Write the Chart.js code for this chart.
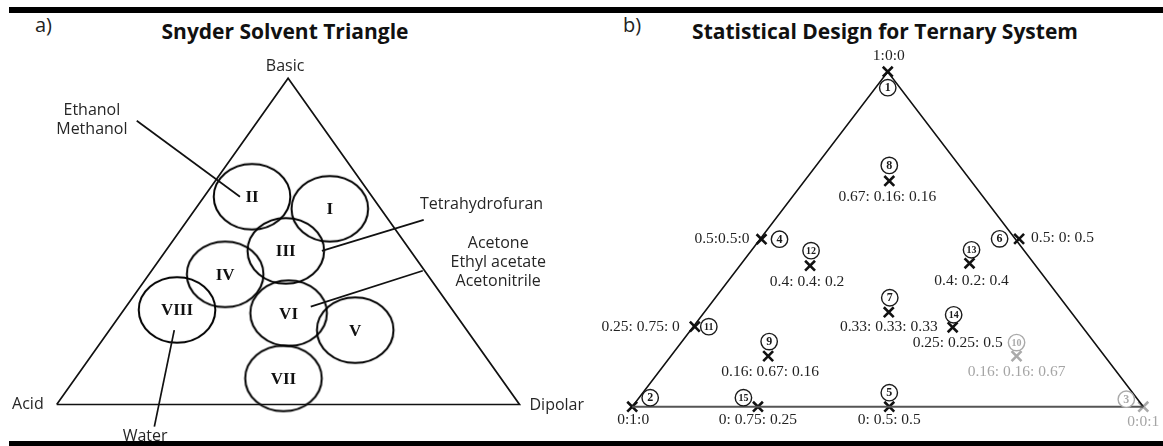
<!DOCTYPE html>
<html>
<head>
<meta charset="utf-8">
<script src="https://cdn.jsdelivr.net/npm/chart.js@4.4.1/dist/chart.umd.min.js"></script>
<style>
  body { margin: 0; width: 1163px; height: 446px; background: #fff; position: relative; overflow: hidden; font-family: 'Open Sans', sans-serif; }
  canvas { position: absolute; top: 0; }
  #snyder { left: 0; }
  #design { left: 580px; }
  .bar { position: absolute; left: 9px; right: 0; background: #000; z-index: 5; }
  .title { position: absolute; top: 17px; font-weight: bold; font-size: 21px; line-height: 28px; color: #111; transform: translateX(-50%); white-space: nowrap; }
  .tag { position: absolute; top: 11px; font-size: 20px; line-height: 27px; color: #222; }
</style>
</head>
<body>
<div class="bar" style="top:7px;height:6px"></div>
<div class="bar" style="top:441px;height:5px"></div>
<div class="tag" style="left:35px">a)</div>
<div class="tag" style="left:623px">b)</div>
<div class="title" style="left:285px">Snyder Solvent Triangle</div>
<div class="title" style="left:885px">Statistical Design for Ternary System</div>
<canvas id="snyder" width="610" height="446"></canvas>
<canvas id="design" width="583" height="446"></canvas>
<script>
// ---- data: a) Snyder triangle (unit triangle: Acid (0,0), Dipolar (1,0), Basic (0.5,1))
const groups = ['I', 'II', 'III', 'IV', 'V', 'VI', 'VII', 'VIII'];
const groupX = [0.590, 0.422, 0.495, 0.364, 0.645, 0.501, 0.490, 0.260];
const groupY = [0.600, 0.637, 0.471, 0.399, 0.228, 0.280, 0.080, 0.290];

const corners = ['Acid', 'Basic', 'Dipolar'];
const cornerX = [0, 0.5, 1];
const cornerY = [0, 1, 0];

const solvents = [['Ethanol', 'Methanol'], ['Tetrahydrofuran'], ['Acetone', 'Ethyl acetate', 'Acetonitrile'], ['Water']];
const solventX = [0.076, 0.918, 0.954, 0.191];
const solventY = [0.901, 0.612, 0.494, -0.097];
const leaderFromX = [0.173, 0.793, 0.791, 0.254];
const leaderFromY = [0.870, 0.566, 0.410, 0.228];
const leaderToX = [0.396, 0.573, 0.549, 0.211];
const leaderToY = [0.637, 0.471, 0.300, -0.068];

// ---- data: b) design points
const runs = [1, 2, 3, 4, 5, 6, 7, 8, 9, 10, 11, 12, 13, 14, 15];
const ratios = ['1:0:0', '0:1:0', '0:0:1', '0.5:0.5:0', '0: 0.5: 0.5', '0.5: 0: 0.5', '0.33: 0.33: 0.33',
  '0.67: 0.16: 0.16', '0.16: 0.67: 0.16', '0.16: 0.16: 0.67', '0.25: 0.75: 0', '0.4: 0.4: 0.2',
  '0.4: 0.2: 0.4', '0.25: 0.25: 0.5', '0: 0.75: 0.25'];
const runX = [0.5, 0, 1, 0.253, 0.503, 0.757, 0.502, 0.503, 0.266, 0.752, 0.1225, 0.348, 0.660, 0.627, 0.246];
const runY = [1, 0, 0, 0.5, 0, 0.501, 0.282, 0.674, 0.151, 0.151, 0.239, 0.421, 0.428, 0.237, 0];

// ---- layout / style
const greyRuns = [3, 10];
// circled-number offset from marker (px)
const numOffset = [[0, 16], [18, -9], [-17, -7.5], [18, 0], [0, -14], [-19.5, 0], [1, -14.5], [0, -15.5],
  [1, -14.5], [0, -13.5], [14, 0], [1, -15], [2, -13.5], [1, -12.5], [-14.5, -9]];
// ratio label: [align, dx, dy]
const ratioOffset = [['center', 1, -16], ['center', 1, 13], ['center', 0, 15], ['right', -12, 0],
  ['center', 0, 13], ['left', 12, -1], ['center', 0, 15], ['center', -2, 16], ['center', 2, 15.5],
  ['center', 0, 15.5], ['right', -15, 0], ['center', -3, 16], ['center', 2, 18], ['center', 5, 15.5],
  ['center', 0, 13]];

// pixel frame of each triangle inside its canvas
function frameScales(f) {
  const sx = f.x1 - f.x0, sy = f.yb - f.ya;
  return {
    x: { type: 'linear', display: false, min: -f.x0 / sx, max: (f.w - f.x0) / sx },
    y: { type: 'linear', display: false, min: -(f.h - f.yb) / sy, max: f.yb / sy }
  };
}

const baseOptions = (scales) => ({
  responsive: false,
  animation: false,
  devicePixelRatio: 1,
  layout: { padding: 0, autoPadding: false },
  plugins: { legend: { display: false }, tooltip: { enabled: false } },
  events: [],
  scales: scales
});

// ellipse used as the point style for the solvent groups
const ring = document.createElement('canvas');
ring.width = 82; ring.height = 72;
(function () {
  const c = ring.getContext('2d');
  c.strokeStyle = '#000';
  c.lineWidth = 2;
  c.beginPath();
  c.ellipse(41, 36, 38.3, 32.8, 0, 0, Math.PI * 2);
  c.stroke();
})();

const pts = (xs, ys) => xs.map((x, i) => ({ x: x, y: ys[i] }));

const snyderText = {
  id: 'snyderText',
  afterDatasetsDraw(chart) {
    const ctx = chart.ctx, sx = chart.scales.x, sy = chart.scales.y;
    ctx.save();
    ctx.textBaseline = 'middle';
    ctx.fillStyle = '#111';
    ctx.textAlign = 'center';
    ctx.font = 'bold 17px "Liberation Serif"';
    groups.forEach((g, i) => ctx.fillText(g, sx.getPixelForValue(groupX[i]), sy.getPixelForValue(groupY[i]) + 1));

    ctx.fillStyle = '#262626';
    ctx.font = '16px "Open Sans"';
    ctx.textAlign = 'right';
    ctx.fillText(corners[0], sx.getPixelForValue(cornerX[0]) - 13, sy.getPixelForValue(cornerY[0]));
    ctx.textAlign = 'center';
    ctx.fillText(corners[1], sx.getPixelForValue(cornerX[1]) - 3, sy.getPixelForValue(cornerY[1]) - 12);
    ctx.textAlign = 'left';
    ctx.fillText(corners[2], sx.getPixelForValue(cornerX[2]) + 10, sy.getPixelForValue(cornerY[2]) + 1);

    ctx.textAlign = 'center';
    solvents.forEach((lines, i) => {
      const x = sx.getPixelForValue(solventX[i]), y = sy.getPixelForValue(solventY[i]);
      lines.forEach((t, k) => ctx.fillText(t, x, y + k * 19));
    });
    ctx.restore();
  }
};

new Chart(document.getElementById('snyder'), {
  type: 'scatter',
  data: {
    datasets: [
      {
        type: 'line',
        data: pts([0, 0.5, 1, 0], [0, 1, 0, 0]),
        borderColor: '#111', borderWidth: 1.7, pointRadius: 0, fill: false, tension: 0
      },
      ...leaderFromX.map((x, i) => ({
        type: 'line',
        data: [{ x: x, y: leaderFromY[i] }, { x: leaderToX[i], y: leaderToY[i] }],
        borderColor: '#111', borderWidth: 1.7, pointRadius: 0, fill: false
      })),
      {
        data: pts(groupX, groupY),
        pointStyle: ring, pointRadius: 35, borderWidth: 0
      }
    ]
  },
  options: baseOptions(frameScales({ w: 610, h: 446, x0: 56.7, x1: 519.5, yb: 404.5, ya: 78.3 })),
  plugins: [snyderText]
});

const designText = {
  id: 'designText',
  afterDatasetsDraw(chart) {
    const ctx = chart.ctx, sx = chart.scales.x, sy = chart.scales.y;
    ctx.save();
    ctx.textBaseline = 'middle';
    runs.forEach((r, i) => {
      const px = sx.getPixelForValue(runX[i]), py = sy.getPixelForValue(runY[i]);
      const grey = greyRuns.includes(r);
      // circled run number
      const cx = px + numOffset[i][0], cy = py + numOffset[i][1];
      ctx.beginPath();
      ctx.arc(cx, cy, 8.2, 0, Math.PI * 2);
      ctx.fillStyle = '#fff';
      ctx.fill();
      ctx.lineWidth = 1.4;
      ctx.strokeStyle = grey ? '#aaa' : '#1a1a1a';
      ctx.stroke();
      ctx.fillStyle = grey ? '#aaa' : '#1a1a1a';
      ctx.textAlign = 'center';
      ctx.font = 'bold ' + (r > 9 ? '10px' : '12px') + ' "Liberation Serif"';
      ctx.fillText(String(r), cx, cy + 0.5);
      // ratio label
      const o = ratioOffset[i];
      ctx.textAlign = o[0];
      ctx.font = '15.5px "Liberation Serif"';
      ctx.fillStyle = grey ? '#a5a5a5' : '#222';
      ctx.fillText(ratios[i], px + o[1], py + o[2]);
    });
    ctx.restore();
  }
};

new Chart(document.getElementById('design'), {
  type: 'scatter',
  data: {
    datasets: [
      {
        type: 'line',
        data: pts([0, 1], [0, 0]),
        borderColor: '#555', borderWidth: 2, pointRadius: 0, fill: false
      },
      {
        type: 'line',
        data: pts([0, 0.5, 1], [0, 1, 0]),
        borderColor: '#111', borderWidth: 1.6, pointRadius: 0, fill: false, tension: 0
      },
      {
        data: pts(runX, runY),
        pointStyle: 'crossRot',
        pointRadius: 7,
        borderWidth: 2.6,
        borderColor: runs.map(r => greyRuns.includes(r) ? '#aaa' : '#111')
      }
    ]
  },
  options: baseOptions(frameScales({ w: 583, h: 446, x0: 52.2, x1: 563.3, yb: 406.7, ya: 71.7 })),
  plugins: [designText]
});
</script>
</body>
</html>
